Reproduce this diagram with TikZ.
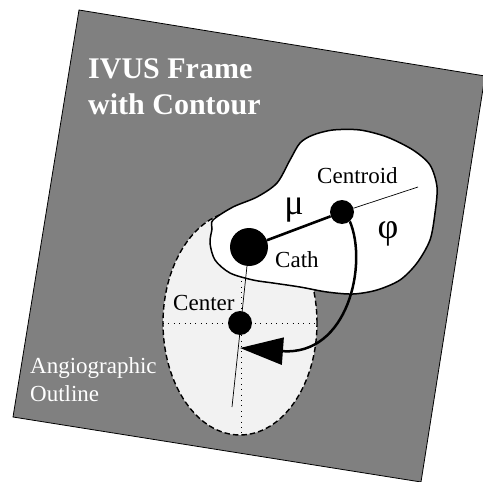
\documentclass[tikz,border=0pt]{standalone}
\usepackage{fontspec}
\setmainfont{Liberation Serif}
\usetikzlibrary{arrows.meta,positioning}

\begin{document}
\begin{tikzpicture}[x=1pt, y=-1pt,
    dot/.style={circle, fill=black, inner sep=0pt},
    txt/.style={inner sep=0pt, font=\fontsize{23}{28}\selectfont},
    greek/.style={inner sep=0pt, font=\fontsize{36}{36}\selectfont},
    dotline/.style={line width=0.9pt, dash pattern=on 0.9pt off 4.5pt}]
    \useasboundingbox (0,0) rectangle (483,482);
    % frame
    \draw[fill=black!50, line width=0.8pt] (79,10) -- (485,76) -- (421,482) -- (13,417) -- cycle;
    % angiographic outline
    \draw[fill=black!5, line width=1.4pt, dash pattern=on 5.5pt off 3pt] (240,323) ellipse [x radius=77pt, y radius=112pt];
    \draw[dotline] (163,323) -- (317,323);
    \draw[dotline] (241,211) -- (241,435);
    % IVUS contour
    \draw[fill=white, line width=1.5pt] plot[smooth cycle] coordinates {
        (213,220) (233,207) (257,197) (277,183) (290,160) (300,143) (313,135)
        (333,130) (360,130) (387,137) (413,150) (430,165) (437,187) (435,213)
        (430,240) (417,263) (400,280) (377,290) (353,294) (327,292) (300,287)
        (273,283) (253,280) (230,273) (215,260) (210,243) (212,229)};
    \node[dot, minimum size=38pt] (cath) at (249,247) {};
    \node[dot, minimum size=24pt] (cent) at (342,212) {};
    \node[dot, minimum size=24pt] (ctr) at (240,323) {};
    \coordinate (ray) at (418,187);
    \coordinate (axis) at (232,407);
    \coordinate (tip) at (240,348);
    \draw[line width=0.7pt] (cent) -- (ray);
    \draw[line width=0.7pt] (cath) -- (axis);
    \draw[line width=2.6pt] (cath) -- (cent);
    \draw[line width=2.5pt, -{Triangle[length=43pt, width=27pt]}]
        (cent.-50) .. controls (368,264) and (348,356) .. (tip);
    \node[anchor=north west, inner sep=0pt, align=left, text=white,
        font=\fontsize{30}{36}\selectfont\bfseries] (title) at (88,58) {IVUS Frame\\with Contour};
    \node[txt, anchor=base west] (centlbl) at (317,183) {Centroid};
    \node[txt, anchor=base west] (cathlbl) at (275,267) {Cath};
    \node[txt, anchor=base west] (ctrlbl) at (173,310) {Center};
    \node[txt, anchor=north west, align=left, text=white] (angio) at (30,357) {Angiographic\\Outline};
    \node[greek] (mu) at (294,210) {μ};
    \node[greek] (phi) at (388,234) {φ};
\end{tikzpicture}
\end{document}
